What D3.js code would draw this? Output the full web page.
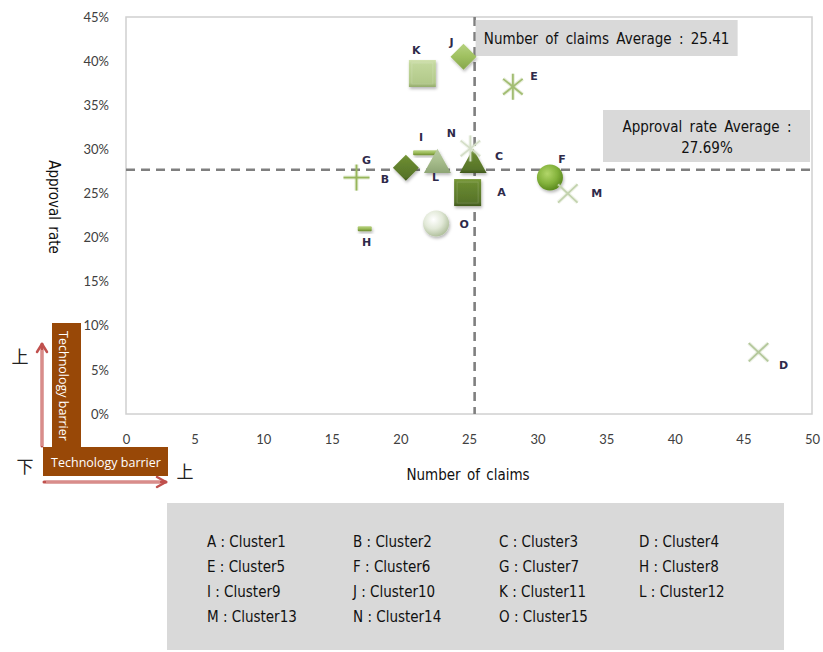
<!DOCTYPE html>
<html>
<head>
<meta charset="utf-8">
<script src="https://cdn.jsdelivr.net/npm/d3@7"></script>
<style>
  html, body { margin: 0; padding: 0; background: #fff; }
  svg { display: block; }
  .tick text { font-family: Lato, "Open Sans", sans-serif; font-size: 13px; fill: #404040; }
</style>
</head>
<body>
<svg id="chart" width="823" height="652"></svg>
<script>
// Cluster data: number of claims vs approval rate (%)
const letters = ["A","B","C","D","E","F","G","H","I","J","K","L","M","N","O"];
const clusterNames = ["Cluster1","Cluster2","Cluster3","Cluster4","Cluster5","Cluster6","Cluster7","Cluster8",
                      "Cluster9","Cluster10","Cluster11","Cluster12","Cluster13","Cluster14","Cluster15"];
const claims   = [24.9, 20.4, 25.3, 46.1, 28.2, 30.9, 16.8, 17.4, 21.8, 24.6, 21.6, 22.7, 32.2, 25.1, 22.6];
const approval = [25.1, 27.9, 28.7, 7.0, 37.1, 26.8, 26.8, 21.0, 29.6, 40.5, 38.6, 28.7, 25.0, 30.1, 21.6];
const avgClaims = 25.41;
const avgApproval = 27.69;
const xTicks = [0,5,10,15,20,25,30,35,40,45,50];
const yTicks = [0,5,10,15,20,25,30,35,40,45];

// Marker appearance per cluster
const markerStyle = {
  A: {shape: "square",   fill: "gDark",  size: 27},
  B: {shape: "diamond",  fill: "gDark",  size: 26},
  C: {shape: "triangle", fill: "gDark",  size: 27},
  D: {shape: "x",        stroke: "#b3c79a", size: 26},
  E: {shape: "star",     stroke: "#a2bd72", size: 26},
  F: {shape: "circle",   fill: "gBall",  size: 26},
  G: {shape: "plus",     stroke: "#97b65a", size: 26},
  H: {shape: "dash",     fill: "gDash",  size: 14},
  I: {shape: "dash",     fill: "gDash",  size: 24},
  J: {shape: "diamond",  fill: "gMid",   size: 26},
  K: {shape: "square",   fill: "gLight", size: 27},
  L: {shape: "triangle", fill: "gGrey",  size: 27},
  M: {shape: "x",        stroke: "#c2d2ad", size: 26},
  N: {shape: "star",     stroke: "#d4dec7", size: 26},
  O: {shape: "circle",   fill: "gPearl", size: 26}
};
// Label offsets from each marker centre
const labelOffset = {
  A: [34, 0], B: [-21, 12], C: [26, -4], D: [25, 13], E: [21, -10],
  F: [12, -18], G: [10, -17], H: [2, 14], I: [-4, -15], J: [-12, -14],
  K: [-6, -23], L: [-2, 17], M: [29, 0], N: [-19, -15], O: [28, 1]
};

const svg = d3.select("#chart");
const plot = {left: 126, right: 812, top: 17, bottom: 414};

const x = d3.scaleLinear().domain([0, 50]).range([plot.left, plot.right]);
const y = d3.scaleLinear().domain([0, 45]).range([plot.bottom, plot.top]);

// Gradients for the bevelled markers
const defs = svg.append("defs");
function linGrad(id, stops) {
  const g = defs.append("linearGradient").attr("id", id)
    .attr("x1", "0").attr("y1", "0").attr("x2", "0").attr("y2", "1");
  stops.forEach(s => g.append("stop").attr("offset", s[0]).attr("stop-color", s[1]));
}
function radGrad(id, stops) {
  const g = defs.append("radialGradient").attr("id", id)
    .attr("cx", "0.4").attr("cy", "0.35").attr("r", "0.65");
  stops.forEach(s => g.append("stop").attr("offset", s[0]).attr("stop-color", s[1]));
}
linGrad("gDark",  [[0, "#7a9a3a"], [0.15, "#6a8a30"], [0.85, "#57742a"], [1, "#40571c"]]);
linGrad("gMid",   [[0, "#b6d27f"], [0.5, "#9fc060"], [1, "#86a64a"]]);
linGrad("gLight", [[0, "#d2e2b0"], [0.15, "#c2d79c"], [0.85, "#b2c98a"], [1, "#93ab6a"]]);
linGrad("gGrey",  [[0, "#b9cba3"], [0.5, "#a7bd8c"], [1, "#8ea575"]]);
linGrad("gDash",  [[0, "#b9d384"], [0.5, "#9bbb59"], [1, "#6b8a2f"]]);
radGrad("gBall",  [[0, "#b2d66a"], [0.6, "#83b23b"], [1, "#5c8a1f"]]);
radGrad("gPearl", [[0, "#ffffff"], [0.55, "#e2e9d8"], [1, "#b3c2a0"]]);
const shadow = defs.append("filter").attr("id", "shadow")
  .attr("x", "-50%").attr("y", "-50%").attr("width", "200%").attr("height", "200%");
shadow.append("feDropShadow").attr("dx", 1).attr("dy", 2).attr("stdDeviation", 1.6)
  .attr("flood-color", "#000").attr("flood-opacity", 0.28);

// Plot area border
svg.append("rect")
  .attr("x", plot.left).attr("y", plot.top)
  .attr("width", plot.right - plot.left).attr("height", plot.bottom - plot.top)
  .attr("fill", "#fff").attr("stroke", "#d0d0d0").attr("stroke-width", 1.5);

// Axes
const yAxis = svg.append("g").attr("transform", `translate(${plot.left - 14},0)`)
  .call(d3.axisLeft(y).tickValues(yTicks).tickSize(0).tickFormat(d => d + "%"));
yAxis.select(".domain").remove();

const xAxis = svg.append("g").attr("transform", `translate(0,${plot.bottom + 18})`)
  .call(d3.axisBottom(x).tickValues(xTicks).tickSize(0).tickFormat(d3.format("d")));
xAxis.select(".domain").remove();
xAxis.selectAll("text").attr("dy", "0.71em");

// Axis titles
const titleFont = "'Liberation Sans Narrow', 'DejaVu Sans Condensed', sans-serif";
svg.append("text")
  .attr("x", 468).attr("y", 480).attr("text-anchor", "middle")
  .attr("font-family", titleFont).attr("font-size", 15).attr("fill", "#111")
  .attr("word-spacing", 2)
  .text("Number of claims");
svg.append("text")
  .attr("transform", "translate(49,207) rotate(90)")
  .attr("text-anchor", "middle")
  .attr("font-family", titleFont).attr("font-size", 15).attr("fill", "#111")
  .attr("word-spacing", 2)
  .text("Approval rate");

// Average reference lines
const dashStyle = sel => sel.attr("stroke", "#7f7f7f").attr("stroke-width", 2.6).attr("stroke-dasharray", "9,6");
svg.append("line")
  .attr("x1", plot.left).attr("x2", plot.right)
  .attr("y1", y(avgApproval)).attr("y2", y(avgApproval)).call(dashStyle);
svg.append("line")
  .attr("x1", x(avgClaims)).attr("x2", x(avgClaims))
  .attr("y1", plot.top).attr("y2", plot.bottom).call(dashStyle);

// Average callouts
svg.append("rect").attr("x", x(avgClaims) + 1).attr("y", 20).attr("width", 262).attr("height", 36).attr("fill", "#d9d9d9");
svg.append("text")
  .attr("x", x(avgClaims) + 132).attr("y", 44).attr("text-anchor", "middle")
  .attr("font-family", titleFont).attr("font-size", 15).attr("fill", "#111").attr("word-spacing", 3)
  .text("Number of claims Average : " + avgClaims.toFixed(2));
svg.append("rect").attr("x", 603).attr("y", 110).attr("width", 207).attr("height", 52).attr("fill", "#d9d9d9");
const avgText = svg.append("text").attr("text-anchor", "middle")
  .attr("font-family", titleFont).attr("font-size", 15).attr("fill", "#111").attr("word-spacing", 3);
avgText.append("tspan").attr("x", 707).attr("y", 132).text("Approval rate Average :");
avgText.append("tspan").attr("x", 707).attr("y", 153).text(avgApproval.toFixed(2) + "%");

// Markers
const points = letters.map((k, i) => ({key: k, name: clusterNames[i], cx: x(claims[i]), cy: y(approval[i])}));

function drawMarker(g, d) {
  const st = markerStyle[d.key];
  const s = st.size, h = s / 2;
  const m = g.append("g").attr("transform", `translate(${d.cx},${d.cy})`);
  if (st.shape === "square") {
    m.append("rect").attr("x", -h).attr("y", -h).attr("width", s).attr("height", s)
      .attr("fill", `url(#${st.fill})`).attr("filter", "url(#shadow)");
    m.append("rect").attr("x", -h + 3).attr("y", -h + 3).attr("width", s - 6).attr("height", s - 6)
      .attr("fill", "none").attr("stroke", "#ffffff").attr("stroke-opacity", 0.15);
  } else if (st.shape === "diamond") {
    m.append("path").attr("d", `M0,${-h}L${h},0L0,${h}L${-h},0Z`)
      .attr("fill", `url(#${st.fill})`).attr("filter", "url(#shadow)");
  } else if (st.shape === "triangle") {
    const th = s * 0.9;
    m.append("path").attr("d", `M0,${-th / 2}L${h},${th / 2}L${-h},${th / 2}Z`)
      .attr("fill", `url(#${st.fill})`).attr("filter", "url(#shadow)");
  } else if (st.shape === "circle") {
    m.append("circle").attr("r", h).attr("fill", `url(#${st.fill})`).attr("filter", "url(#shadow)");
  } else if (st.shape === "dash") {
    m.append("rect").attr("x", -h).attr("y", -2.5).attr("width", s).attr("height", 5).attr("rx", 1)
      .attr("fill", `url(#${st.fill})`).attr("filter", "url(#shadow)");
  } else {
    // Line-based markers: x, asterisk-style star, plus
    const r = h;
    let lines = [];
    if (st.shape === "x") {
      lines = [[-r * 0.75, -r * 0.7, r * 0.75, r * 0.7], [-r * 0.75, r * 0.7, r * 0.75, -r * 0.7]];
    } else if (st.shape === "star") {
      lines = [[-r * 0.75, -r * 0.6, r * 0.75, r * 0.6], [-r * 0.75, r * 0.6, r * 0.75, -r * 0.6], [0, -r, 0, r]];
    } else if (st.shape === "plus") {
      lines = [[-r, 0, r, 0], [0, -r, 0, r]];
    }
    // soft halo beneath each stroke
    lines.forEach(l => m.append("line")
      .attr("x1", l[0]).attr("y1", l[1]).attr("x2", l[2]).attr("y2", l[3])
      .attr("stroke", st.stroke).attr("stroke-opacity", 0.25).attr("stroke-width", 4));
    lines.forEach(l => m.append("line")
      .attr("x1", l[0]).attr("y1", l[1]).attr("x2", l[2]).attr("y2", l[3])
      .attr("stroke", st.stroke).attr("stroke-width", 1.8));
  }
}

const markerLayer = svg.append("g");
points.forEach(d => drawMarker(markerLayer, d));

// Point labels
svg.append("g").selectAll("text").data(points).join("text")
  .attr("x", d => d.cx + labelOffset[d.key][0])
  .attr("y", d => d.cy + labelOffset[d.key][1])
  .attr("text-anchor", "middle").attr("dominant-baseline", "central")
  .attr("font-family", "'DejaVu Sans', sans-serif").attr("font-size", 11).attr("font-weight", "bold")
  .attr("fill", "#2e2a4a")
  .text(d => d.key);

// Technology barrier indicator (bottom-left)
const brown = "#984807";
const arrowRed = "#c0504d";
svg.append("rect").attr("x", 52).attr("y", 323).attr("width", 29).attr("height", 130).attr("fill", brown);
svg.append("rect").attr("x", 43).attr("y", 447).attr("width", 125).attr("height", 29).attr("fill", brown);
svg.append("text")
  .attr("transform", "translate(63,386) rotate(90)")
  .attr("text-anchor", "middle").attr("dominant-baseline", "central")
  .attr("font-family", "'Open Sans', sans-serif").attr("font-size", 12.5).attr("fill", "#fff")
  .text("Technology barrier");
svg.append("text")
  .attr("x", 106).attr("y", 462)
  .attr("text-anchor", "middle").attr("dominant-baseline", "central")
  .attr("font-family", "'Open Sans', sans-serif").attr("font-size", 12.5).attr("fill", "#fff")
  .text("Technology barrier");

const arrows = svg.append("g").attr("fill", "none").attr("stroke", arrowRed)
  .attr("stroke-linecap", "round").attr("stroke-linejoin", "round");
arrows.append("path").attr("d", "M42,446 L42,344").attr("stroke-width", 3);
arrows.append("path").attr("d", "M37,352 L42,344 L47,352").attr("stroke-width", 2.5);
arrows.append("path").attr("d", "M44,482 L166,482").attr("stroke-width", 3);
arrows.append("path").attr("d", "M157,477 L166,482 L157,487").attr("stroke-width", 2.5);
svg.append("path").attr("d", "M42,446 L42,350").attr("stroke", "#f2c9c8").attr("stroke-width", 1).attr("fill", "none");
svg.append("path").attr("d", "M46,482 L160,482").attr("stroke", "#f2c9c8").attr("stroke-width", 1).attr("fill", "none");

const cjk = "'Noto Sans CJK SC', sans-serif";
[["上", 20, 355], ["下", 25, 465], ["上", 185, 470]].forEach(t =>
  svg.append("text").attr("x", t[1]).attr("y", t[2])
    .attr("text-anchor", "middle").attr("dominant-baseline", "central")
    .attr("font-family", cjk).attr("font-size", 17).attr("fill", "#222").text(t[0]));

// Legend of cluster names
svg.append("rect").attr("x", 167).attr("y", 503).attr("width", 617).attr("height", 147).attr("fill", "#d9d9d9");
const colX = [207, 353, 499, 639];
const rowY = [542, 567, 592, 617];
svg.append("g").selectAll("text").data(points).join("text")
  .attr("x", (d, i) => colX[i % 4])
  .attr("y", (d, i) => rowY[Math.floor(i / 4)])
  .attr("dominant-baseline", "central")
  .attr("font-family", titleFont).attr("font-size", 15).attr("fill", "#111")
  .text(d => `${d.key} : ${d.name}`);
</script>
</body>
</html>
